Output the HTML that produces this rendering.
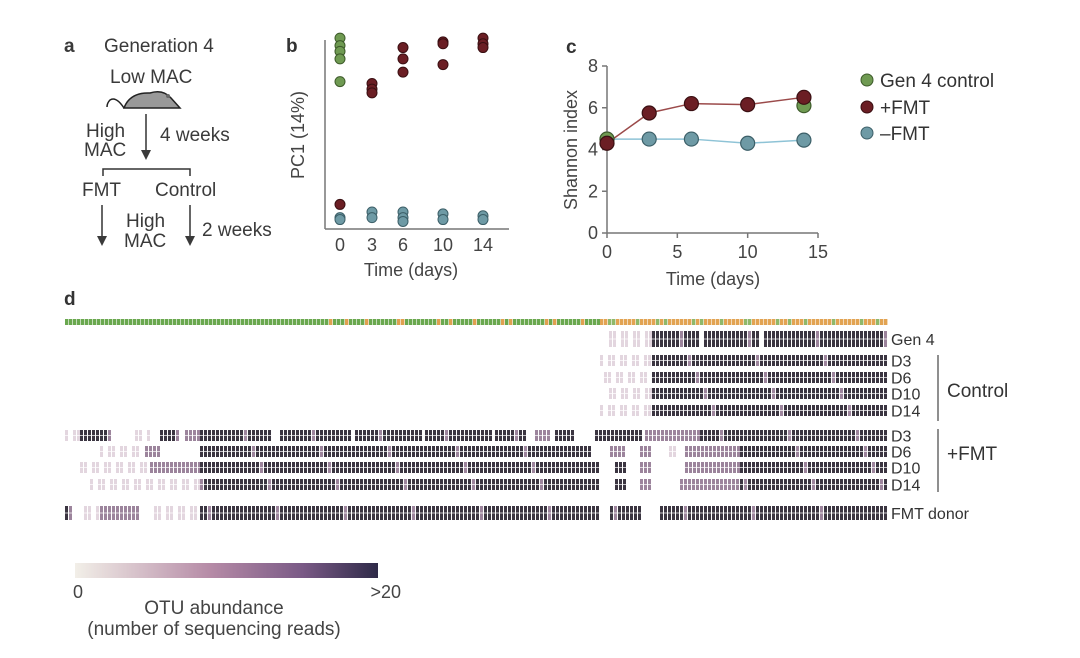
<!DOCTYPE html>
<html><head><meta charset="utf-8"><style>
html,body{margin:0;padding:0;background:#fff;}
svg{display:block;font-family:"Liberation Sans",Arial,sans-serif;}
</style></head><body>
<svg id="fig" width="1080" height="658" viewBox="0 0 1080 658">
<defs>
<linearGradient id="cbar" x1="0" x2="1" y1="0" y2="0">
<stop offset="0" stop-color="#f2efe8"/><stop offset="0.45" stop-color="#b58aa6"/><stop offset="0.75" stop-color="#7a5a86"/><stop offset="1" stop-color="#2e2a48"/>
</linearGradient>
</defs>
<g id="panel-a" fill="#3a3a3a" font-size="19">
<text x="64" y="52" font-weight="bold" font-size="19">a</text>
<text x="104" y="52">Generation 4</text>
<text x="110" y="83">Low MAC</text>
<g>
<path d="M124 108 Q130 92 150 93 Q163 89 171 98 L180 108 Z" fill="#999" stroke="#222" stroke-width="1.5"/>
<path d="M124 108 Q116 96 110 100 Q107 103 107 107" fill="none" stroke="#222" stroke-width="1.5"/>
<circle cx="168" cy="96" r="2" fill="#666"/>
</g>
<text x="86" y="137">High</text>
<text x="84" y="156">MAC</text>
<line x1="146" y1="114" x2="146" y2="152" stroke="#333" stroke-width="1.5"/>
<path d="M141 150 L146 160 L151 150 Z"/>
<text x="160" y="141">4 weeks</text>
<path d="M103 176 L103 169 L190 169 L190 176" fill="none" stroke="#333" stroke-width="1.5"/>
<text x="82" y="196">FMT</text>
<text x="155" y="196">Control</text>
<line x1="102" y1="205" x2="102" y2="238" stroke="#333" stroke-width="1.5"/>
<path d="M97 236 L102 246 L107 236 Z"/>
<line x1="190" y1="205" x2="190" y2="238" stroke="#333" stroke-width="1.5"/>
<path d="M185 236 L190 246 L195 236 Z"/>
<text x="126" y="227">High</text>
<text x="124" y="247">MAC</text>
<text x="202" y="236">2 weeks</text>
</g>
<g id="panel-b">
<text x="286" y="52" font-weight="bold" font-size="19" fill="#333">b</text>
<line x1="325" y1="40" x2="325" y2="229" stroke="#777" stroke-width="1.5"/>
<line x1="325" y1="229" x2="509" y2="229" stroke="#777" stroke-width="1.5"/>
<text transform="translate(304,135) rotate(-90)" text-anchor="middle" font-size="18" fill="#444">PC1 (14%)</text>
<text x="411" y="276" text-anchor="middle" font-size="18" fill="#444">Time (days)</text>
<g id="b-ticks"></g><g id="b-points"></g>
</g>
<g id="panel-c">
<text x="566" y="53" font-weight="bold" font-size="19" fill="#333">c</text>
<line x1="607" y1="66" x2="607" y2="233" stroke="#777" stroke-width="1.5"/>
<line x1="607" y1="233" x2="818" y2="233" stroke="#777" stroke-width="1.5"/>
<text transform="translate(577,150) rotate(-90)" text-anchor="middle" font-size="18" fill="#444">Shannon index</text>
<text x="713" y="285" text-anchor="middle" font-size="18" fill="#444">Time (days)</text>
<g id="c-ticks"></g><g id="c-lines"></g><g id="c-points"></g>
<g font-size="19" fill="#333">
<g><circle cx="867" cy="80" r="6" fill="#6f9a52" stroke="#3d5a2a"/><text x="880" y="87">Gen 4 control</text></g>
<g><circle cx="867" cy="107" r="6" fill="#6b1e24" stroke="#3a0f12"/><text x="880" y="114">+FMT</text></g>
<g><circle cx="867" cy="133" r="6" fill="#6e9aa5" stroke="#3c5f68"/><text x="880" y="140">–FMT</text></g>
</g>
</g>
<g id="panel-d">
<text x="64" y="305" font-weight="bold" font-size="19" fill="#333">d</text>
<g id="strip"></g><g id="cells"></g><g id="rowlabels" font-size="16" fill="#333"></g>
<line x1="938" y1="355" x2="938" y2="421" stroke="#444" stroke-width="1.2"/>
<text x="947" y="397" font-size="19" fill="#333">Control</text>
<line x1="938" y1="429" x2="938" y2="492" stroke="#444" stroke-width="1.2"/>
<text x="947" y="460" font-size="19" fill="#333">+FMT</text>
<rect x="75" y="563" width="303" height="15" fill="url(#cbar)"/>
<text x="73" y="598" font-size="18" fill="#444">0</text>
<text x="401" y="598" text-anchor="end" font-size="18" fill="#444">&gt;20</text>
<text x="214" y="614" text-anchor="middle" font-size="19" fill="#444">OTU abundance</text>
<text x="214" y="635" text-anchor="middle" font-size="19" fill="#444">(number of sequencing reads)</text>
</g>
</svg>
<script>
const NS="http://www.w3.org/2000/svg";
const bDays=[0,3,6,10,14];
const bGreen=[[0,101],[0,97],[0,94],[0,90],[0,78]];
const bRed=[[0,13],[3,77],[3,74],[3,72],[6,96],[6,90],[6,83],[10,99],[10,98],[10,87],[14,101],[14,98],[14,96]];
const bBlue=[[0,6],[0,5],[3,9],[3,6],[6,9],[6,6],[6,4],[10,8],[10,5],[14,7],[14,5]];
const cDays=[0,3,6,10,14];
const cPlus=[4.3,5.75,6.2,6.15,6.5];
const cMinus=[4.5,4.5,4.5,4.3,4.45];
const cGen4Days=[0,14];
const cGen4=[4.5,6.1];
const cYTicks=[0,2,4,6,8];
const cXTicks=[0,5,10,15];
const rowNames=["Gen 4","D3","D6","D10","D14","D3","D6","D10","D14","FMT donor"];
const rowSegs=[
[[605,650,1],[652,700,3],[704,760,3],[764,887,3]],
[[600,650,1],[652,887,3]],
[[600,650,1],[652,887,3]],
[[605,650,1],[652,887,3]],
[[600,650,1],[652,887,3]],
[[65,80,1],[80,112,3],[135,150,1],[160,180,3],[185,200,2],[200,270,3],[280,350,3],[355,420,3],[425,490,3],[495,525,3],[535,548,2],[555,575,3],[595,640,3],[645,700,2],[700,887,3]],
[[100,140,1],[145,160,2],[200,590,3],[610,625,2],[640,650,2],[665,680,1],[685,740,2],[740,887,3]],
[[80,150,1],[150,200,2],[200,600,3],[615,625,3],[640,650,2],[685,740,2],[740,887,3]],
[[90,200,1],[200,600,3],[615,625,3],[640,650,2],[680,740,2],[740,887,3]],
[[65,70,3],[80,100,1],[100,140,2],[150,195,1],[200,600,3],[610,640,3],[660,887,3]]
];
const stripSegs=[[65,600,"g"],[600,887,"o"]];

function mk(tag,attrs,parent){const e=document.createElementNS(NS,tag);for(const k in attrs)e.setAttribute(k,attrs[k]);parent.appendChild(e);return e;}
const bx=d=>{const i=bDays.indexOf(d);return 340+[0,32,63,103,143][i];};
const by=v=>229-v*1.89;
const bt=document.getElementById('b-ticks');
bDays.forEach(d=>{const t=mk('text',{x:bx(d),y:251,'text-anchor':'middle','font-size':18,fill:'#444'},bt);t.textContent=d;

});
const bp=document.getElementById('b-points');
function bpts(arr,fill,stroke,name){arr.forEach(p=>{const c=mk('circle',{cx:bx(p[0]),cy:by(p[1]),r:5,fill:fill,stroke:stroke,'stroke-width':1},bp);

});}
bpts(bBlue,'#6e9aa5','#3c5f68','b-point-minus-fmt');
bpts(bGreen,'#6f9a52','#3d5a2a','b-point-gen4');
bpts(bRed,'#6b1e24','#3a0f12','b-point-plus-fmt');
const cx=d=>607+d*(211/15);
const cy=v=>233-v*(167/8);
const ct=document.getElementById('c-ticks');
cYTicks.forEach(v=>{mk('line',{x1:602,x2:607,y1:cy(v),y2:cy(v),stroke:'#777','stroke-width':1.5},ct);
const t=mk('text',{x:598,y:cy(v)+6,'text-anchor':'end','font-size':18,fill:'#444'},ct);t.textContent=v;

});
cXTicks.forEach(v=>{mk('line',{x1:cx(v),x2:cx(v),y1:233,y2:238,stroke:'#777','stroke-width':1.5},ct);
const t=mk('text',{x:cx(v),y:258,'text-anchor':'middle','font-size':18,fill:'#444'},ct);t.textContent=v;

});
const cl=document.getElementById('c-lines');
const lm=mk('polyline',{points:cDays.map((d,i)=>cx(d)+','+cy(cMinus[i])).join(' '),fill:'none',stroke:'#8ec3d6','stroke-width':1.5},cl);


const lp=mk('polyline',{points:cDays.map((d,i)=>cx(d)+','+cy(cPlus[i])).join(' '),fill:'none',stroke:'#9b4a4a','stroke-width':1.5},cl);


const cp=document.getElementById('c-points');
function cpts(ds,vs,fill,stroke,name){ds.forEach((d,i)=>{const c=mk('circle',{cx:cx(d),cy:cy(vs[i]),r:7,fill:fill,stroke:stroke,'stroke-width':1.2},cp);

});}
cpts(cDays,cMinus,'#6e9aa5','#3c5f68','c-point-minus-fmt');
cpts(cGen4Days,cGen4,'#6f9a52','#3d5a2a','c-point-gen4');
cpts(cDays,cPlus,'#6b1e24','#3a0f12','c-point-plus-fmt');
const rowY=[331,355,372,388,405,430,446,462,479,506];
const rowH=[16,11,11,11,11,11,11,11,11,14];
const levelCol=["#fff","#e3d6df","#9c849c","#3b3541"];
const st=document.getElementById('strip');
stripSegs.forEach(s=>{for(let x=s[0];x<s[1];x+=4){const k=Math.floor((x-65)/4);
let c=s[2]==="g"?((k%9===3||k%13===5)&&x>300?"#e0a050":"#6aa84f"):((k%7===2||k%11===4)?"#8fb86a":"#e2a352");
const r=mk('rect',{x:x,y:319,width:3.4,height:6,fill:c},st);

}});
const cg=document.getElementById('cells');
const rl=document.getElementById('rowlabels');
rowSegs.forEach((segs,ri)=>{
 segs.forEach(s=>{for(let x=s[0];x<s[1];x+=4){const k=Math.floor((x-65)/4);
  let lv=s[2];
  if(lv===3&&(k*7+ri*3)%17===0)lv=2;
  if(lv===1&&(k+ri)%3===0)continue;
  const r=mk('rect',{x:x,y:rowY[ri],width:3,height:rowH[ri],fill:levelCol[lv]},cg);
  
  
  mk('rect',{x:x,y:rowY[ri]+rowH[ri]/2-0.5,width:3,height:1,fill:'#fff',opacity:0.7},cg);}});
 const t=mk('text',{x:891,y:rowY[ri]+rowH[ri]/2+6},rl);t.textContent=rowNames[ri];
 
 
});
</script>
</body></html>
